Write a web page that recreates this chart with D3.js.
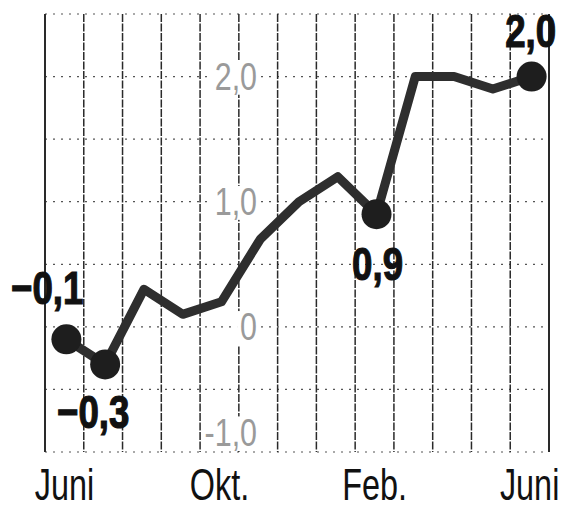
<!DOCTYPE html>
<html>
<head>
<meta charset="utf-8">
<script src="https://cdn.jsdelivr.net/npm/d3@7"></script>
<style>
  html, body { margin: 0; padding: 0; background: #fff; }
  svg { display: block; }
</style>
</head>
<body>
<div id="chart"></div>
<script>
// monthly values, June to June
const months = ["Juni", "Juli", "Aug.", "Sep.", "Okt.", "Nov.", "Dez.", "Jan.", "Feb.", "März", "Apr.", "Mai", "Juni"];
const values = [-0.1, -0.3, 0.3, 0.1, 0.2, 0.7, 1.0, 1.2, 0.9, 2.0, 2.0, 1.9, 2.0];
const shownMonths = [0, 4, 8, 12];
const yTicks = [2, 1, 0, -1];
const yTickLabels = ["2,0", "1,0", "0", "-1,0"];
const gridValues = [-1, -0.5, 0, 0.5, 1, 1.5, 2, 2.5];
const markedPoints = [0, 1, 8, 12];
const markedLabels = ["\u22120,1", "\u22120,3", "0,9", "2,0"];

(function () {
  const w = 571, h = 511;
  const font = '"Liberation Sans", Arial, sans-serif';

  const svg = d3.select('#chart').append('svg')
    .attr('width', w)
    .attr('height', h);

  const x = d3.scaleBand()
    .domain(d3.range(months.length))
    .range([45, 549])
    .paddingInner(0)
    .paddingOuter(0);

  const y = d3.scaleLinear()
    .domain([-1, 2.5])
    .range([452, 14]);

  const xPt = i => x(i) + x.bandwidth() / 2 + 2;

  // horizontal dotted grid
  svg.append('g')
    .selectAll('line')
    .data(gridValues)
    .enter()
    .append('line')
    .attr('x1', 45)
    .attr('x2', 549)
    .attr('y1', d => y(d))
    .attr('y2', d => y(d))
    .attr('stroke', '#555')
    .attr('stroke-width', 1.2)
    .attr('stroke-dasharray', '2,6');

  // vertical month grid
  let edges = d3.range(months.length).map(i => x(i)).concat([x.range()[1]]);
  svg.append('g')
    .selectAll('line')
    .data(edges)
    .enter()
    .append('line')
    .attr('x1', d => d)
    .attr('x2', d => d)
    .attr('y1', y(2.5))
    .attr('y2', y(-1))
    .attr('stroke', '#2a2a2a')
    .attr('stroke-width', (d, i) => (i === 0 || i === edges.length - 1) ? 2 : 1.5)
    .attr('stroke-dasharray', (d, i) => (i === 0 || i === edges.length - 1) ? null : '8,1.5');

  // y axis labels sitting on the grid
  const ySx = 0.8;
  let yAxis = svg.append('g')
    .attr('transform', 'translate(257,0)')
    .call(d3.axisLeft(y)
      .tickValues(yTicks)
      .tickSize(0)
      .tickPadding(0)
      .tickFormat((d, i) => yTickLabels[i]));
  yAxis.select('.domain').remove();
  yAxis.selectAll('text')
    .attr('font-family', font)
    .attr('font-size', 38)
    .attr('fill', '#9a9a9a')
    .attr('transform', 'scale(' + ySx + ',1)')
    .attr('dy', d => d === -1 ? '-0.18em' : '0.34em');
  yAxis.selectAll('.tick').each(function () {
    let t = d3.select(this).select('text');
    let bb = t.node().getBBox();
    d3.select(this).insert('rect', 'text')
      .attr('x', bb.x * ySx - 3)
      .attr('y', bb.y + 5)
      .attr('width', bb.width * ySx + 6)
      .attr('height', bb.height - 8)
      .attr('fill', '#fff');
  });

  // the line
  let line = d3.line()
    .x((d, i) => xPt(i))
    .y(d => y(d));
  svg.append('path')
    .datum(values)
    .attr('d', line)
    .attr('fill', 'none')
    .attr('stroke', '#2e2e2e')
    .attr('stroke-width', 9)
    .attr('stroke-linejoin', 'round')
    .attr('stroke-linecap', 'round');

  svg.append('g')
    .selectAll('circle')
    .data(markedPoints)
    .enter()
    .append('circle')
    .attr('cx', d => xPt(d))
    .attr('cy', d => y(values[d]))
    .attr('r', 15)
    .attr('fill', '#1e1e1e');

  // callout labels
  const labelPlace = [
    {dx: 17, dy: -35, anchor: 'end'},
    {dx: -12, dy: 64, anchor: 'middle'},
    {dx: 1, dy: 66, anchor: 'middle'},
    {dx: -1, dy: -30, anchor: 'middle'}
  ];
  svg.append('g')
    .selectAll('text')
    .data(markedPoints)
    .enter()
    .append('text')
    .attr('transform', (d, i) => 'translate(' + (xPt(d) + labelPlace[i].dx) + ',' +
      (y(values[d]) + labelPlace[i].dy) + ') scale(0.78,1)')
    .attr('text-anchor', (d, i) => labelPlace[i].anchor)
    .attr('font-family', font)
    .attr('font-weight', 'bold')
    .attr('font-size', 47)
    .attr('fill', '#111')
    .attr('stroke', '#111')
    .attr('stroke-width', 1.2)
    .text((d, i) => markedLabels[i]);

  // month labels
  let xAxis = svg.append('g')
    .attr('transform', 'translate(0,500)')
    .call(d3.axisBottom(x)
      .tickValues(shownMonths)
      .tickSize(0)
      .tickPadding(0)
      .tickFormat(i => months[i]));
  xAxis.select('.domain').remove();
  xAxis.selectAll('text')
    .attr('dy', 0)
    .attr('font-family', font)
    .attr('font-size', 45)
    .attr('transform', 'scale(0.72,1)')
    .attr('fill', '#111');
})();
</script>
</body>
</html>
